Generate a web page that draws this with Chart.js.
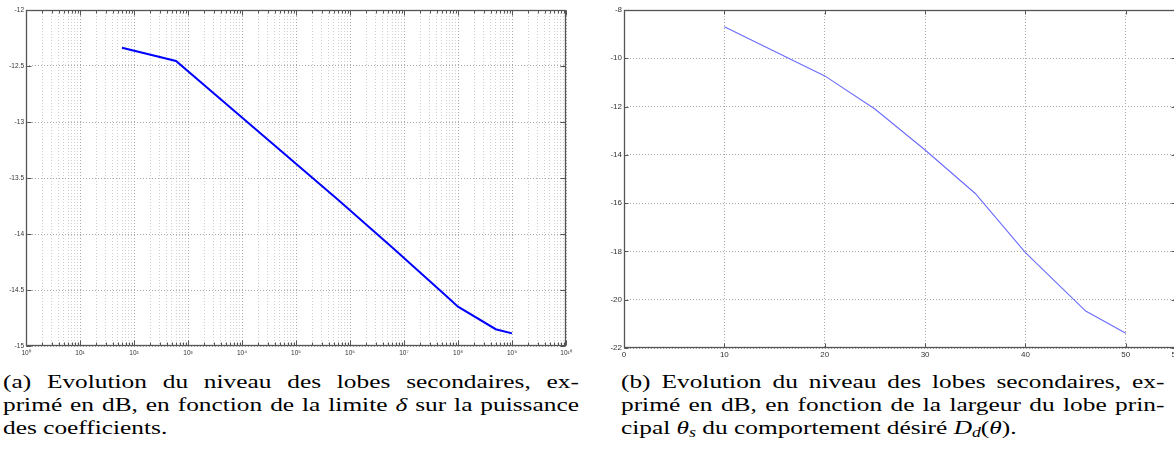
<!DOCTYPE html>
<html>
<head>
<meta charset="utf-8">
<script src="https://cdn.jsdelivr.net/npm/chart.js@4/dist/chart.umd.min.js"></script>
<style>
html,body{margin:0;padding:0;width:1174px;height:460px;overflow:hidden;background:#fff;}
#wa{position:absolute;left:0;top:0;width:580px;height:362px;}
#wb{position:absolute;left:580px;top:0;width:610px;height:362px;}
.cap{position:absolute;font-family:"Liberation Serif","DejaVu Serif",serif;font-size:19.5px;line-height:23px;color:#000;transform:scaleX(1.3);transform-origin:0 0;}
.cap .j{text-align:justify;text-align-last:justify;}
.cap sub{font-size:0.7em;vertical-align:-0.25em;line-height:0;}
</style>
</head>
<body>
<div id="wa"><canvas id="ca" width="580" height="362"></canvas></div>
<div id="wb"><canvas id="cb" width="610" height="362"></canvas></div>
<div class="cap" style="left:3px;top:370px;width:443px">
<div class="j">(a) Evolution du niveau des lobes secondaires, ex-</div>
<div class="j">primé en dB, en fonction de la limite <i>δ</i> sur la puissance</div>
<div>des coefficients.</div>
</div>
<div class="cap" style="left:621px;top:370px;width:418px">
<div class="j">(b) Evolution du niveau des lobes secondaires, ex-</div>
<div class="j">primé en dB, en fonction de la largeur du lobe prin-</div>
<div>cipal <i>θ<sub>s</sub></i> du comportement désiré <i>D<sub>d</sub></i>(<i>θ</i>).</div>
</div>
<script>
// ---- Data (a): side-lobe level vs. power limit delta ----
const deltaValues = [60, 600, 6000, 60000, 600000, 6000000, 60000000, 100000000, 500000000, 1000000000];
const sidelobeDeltaDb = [-12.337, -12.455, -12.868, -13.281, -13.695, -14.118, -14.552, -14.649, -14.85, -14.887];
const xTickExponentsA = [0, 1, 2, 3, 4, 5, 6, 7, 8, 9, 10];
const xTickLabelsA = ['10\u2070','10\u00b9','10\u00b2','10\u00b3','10\u2074','10\u2075','10\u2076','10\u2077','10\u2078','10\u2079','10\u00b9\u2070'];
const yTicksA = [-15, -14.5, -14, -13.5, -13, -12.5, -12];
const yTickLabelsA = ['-15', '-14.5', '-14', '-13.5', '-13', '-12.5', '-12'];

// ---- Data (b): side-lobe level vs. main-lobe width theta_s ----
const thetaValues = [10, 20, 25, 30, 35, 40, 46, 50];
const sidelobeThetaDb = [-8.69, -10.73, -12.1, -13.8, -15.6, -18.05, -20.47, -21.39];
const xTicksB = [0, 10, 20, 30, 40, 50, 55];
const yTicksB = [-22, -20, -18, -16, -14, -12, -10, -8];

// inward tick marks + frame, drawn through the chart's scales
const frameTicks = {
  id: 'frameTicks',
  afterDraw(chart, args, opts) {
    const ctx = chart.ctx, a = chart.chartArea;
    const xs = chart.scales.x, ys = chart.scales.y;
    ctx.save();
    ctx.strokeStyle = opts.color || '#555';
    ctx.lineWidth = 1;
    const L = Math.round(a.left) + 0.5, R = Math.round(a.right) - 0.5;
    const T = Math.round(a.top) + 0.5, B = Math.round(a.bottom) - 0.5;
    ctx.beginPath();
    xs.ticks.forEach(t => {
      const px = Math.round(xs.getPixelForValue(t.value)) + 0.5;
      const len = t.major === false ? opts.minorLen : opts.majorLen;
      ctx.moveTo(px, B); ctx.lineTo(px, B - len);
      ctx.moveTo(px, T); ctx.lineTo(px, T + len);
    });
    ys.ticks.forEach(t => {
      const py = Math.round(ys.getPixelForValue(t.value)) + 0.5;
      ctx.moveTo(L, py); ctx.lineTo(L + opts.majorLen, py);
      ctx.moveTo(R, py); ctx.lineTo(R - opts.majorLen, py);
    });
    ctx.stroke();
    ctx.lineWidth = 1.3;
    ctx.strokeRect(L, T, R - L, B - T);
    ctx.restore();
  }
};

const tickFontA = {family: '"Liberation Sans", Arial, sans-serif', size: 6.5};
const tickFontB = {family: '"Liberation Sans", Arial, sans-serif', size: 8};

new Chart(document.getElementById('ca'), {
  type: 'line',
  data: {
    datasets: [{
      data: deltaValues.map((v, i) => ({x: v, y: sidelobeDeltaDb[i]})),
      borderColor: '#0000ff', borderWidth: 2, pointRadius: 0, tension: 0, fill: false
    }]
  },
  options: {
    responsive: false, animation: false, devicePixelRatio: 1,
    layout: {padding: {top: 10, right: 14, left: 0, bottom: 0}},
    plugins: {legend: {display: false}, tooltip: {enabled: false},
      frameTicks: {majorLen: 5, minorLen: 3, color: '#555'}},
    scales: {
      x: {
        type: 'logarithmic',
        min: Math.pow(10, xTickExponentsA[0]),
        max: Math.pow(10, xTickExponentsA[xTickExponentsA.length - 1]),
        afterBuildTicks(scale) {
          const t = [];
          for (let i = 0; i < xTickExponentsA.length; i++) {
            const e = xTickExponentsA[i];
            t.push({value: Math.pow(10, e), major: true});
            if (i < xTickExponentsA.length - 1) {
              for (let k = 2; k <= 9; k++) t.push({value: k * Math.pow(10, e), major: false});
            }
          }
          scale.ticks = t;
        },
        afterFit(scale) { scale.height = 16; },
        ticks: {
          autoSkip: false, maxRotation: 0, minRotation: 0, padding: 3,
          font: tickFontA, color: '#333',
          callback(value) {
            const i = xTickExponentsA.findIndex(e => Math.abs(Math.pow(10, e) - value) < 1e-6 * value);
            return i >= 0 ? xTickLabelsA[i] : '';
          }
        },
        grid: {
          drawTicks: false,
          color: ctx => (ctx.tick && ctx.tick.major) ? '#a8a8a8' : '#cfcfcf',
          lineWidth: 1
        },
        border: {display: false, dash: [1, 2]}
      },
      y: {
        type: 'linear',
        min: yTicksA[0], max: yTicksA[yTicksA.length - 1],
        afterBuildTicks(scale) { scale.ticks = yTicksA.map(v => ({value: v})); },
        afterFit(scale) { scale.width = 26; },
        ticks: {
          padding: 2, font: tickFontA, color: '#333',
          callback(value) { const i = yTicksA.indexOf(value); return i >= 0 ? yTickLabelsA[i] : ''; }
        },
        grid: {drawTicks: false, color: '#a8a8a8', lineWidth: 1},
        border: {display: false, dash: [1, 2]}
      }
    }
  },
  plugins: [frameTicks]
});

new Chart(document.getElementById('cb'), {
  type: 'line',
  data: {
    datasets: [{
      data: thetaValues.map((v, i) => ({x: v, y: sidelobeThetaDb[i]})),
      borderColor: '#6b6bff', borderWidth: 1.1, pointRadius: 0, tension: 0, fill: false
    }]
  },
  options: {
    responsive: false, animation: false, devicePixelRatio: 1,
    layout: {padding: {top: 10, right: 14, left: 0, bottom: 0}},
    plugins: {legend: {display: false}, tooltip: {enabled: false},
      frameTicks: {majorLen: 4, minorLen: 4, color: '#555'}},
    scales: {
      x: {
        type: 'linear',
        min: xTicksB[0], max: xTicksB[xTicksB.length - 1],
        afterBuildTicks(scale) { scale.ticks = xTicksB.map(v => ({value: v})); },
        afterFit(scale) { scale.height = 14; },
        ticks: {autoSkip: false, maxRotation: 0, minRotation: 0, padding: 2,
          font: tickFontB, color: '#333', callback: v => String(v)},
        grid: {drawTicks: false, color: '#a8a8a8', lineWidth: 1},
        border: {display: false, dash: [1, 2]}
      },
      y: {
        type: 'linear',
        min: yTicksB[0], max: yTicksB[yTicksB.length - 1],
        afterBuildTicks(scale) { scale.ticks = yTicksB.map(v => ({value: v})); },
        afterFit(scale) { scale.width = 44; },
        ticks: {padding: 2, font: tickFontB, color: '#333', callback: v => String(v)},
        grid: {drawTicks: false, color: '#a8a8a8', lineWidth: 1},
        border: {display: false, dash: [1, 2]}
      }
    }
  },
  plugins: [frameTicks]
});
</script>
</body>
</html>
